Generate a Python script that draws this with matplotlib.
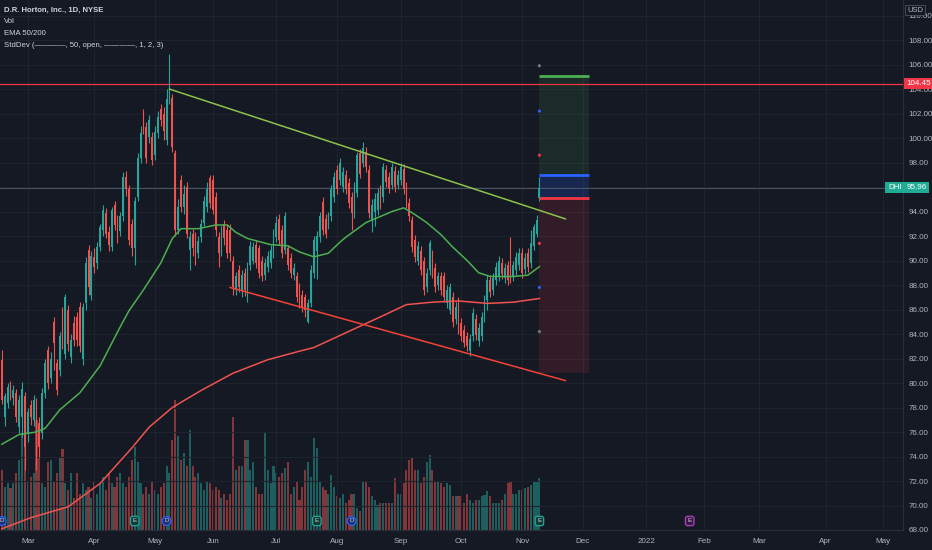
import matplotlib.pyplot as plt
import numpy as np
import pandas as pd

plt.rcParams["font.family"] = ["Liberation Sans Narrow", "Liberation Sans", "DejaVu Sans"]

BG = "#151924"
GRID = "#1f232e"
TXT = "#b2b5be"
UP = "#26a69a"
DOWN = "#ef5350"

# NYSE trading days, used as the bar axis (future bars continue the calendar)
holidays = ["2021-04-02", "2021-05-31", "2021-07-05", "2021-09-06", "2021-11-25",
            "2021-12-24", "2022-01-17", "2022-02-21", "2022-04-15", "2022-05-30"]
days = pd.bdate_range("2021-02-16", "2022-05-31", freq="C", holidays=holidays)

month_starts = ["2021-03", "2021-04", "2021-05", "2021-06", "2021-07", "2021-08",
                "2021-09", "2021-10", "2021-11", "2021-12", "2022-01", "2022-02",
                "2022-03", "2022-04", "2022-05"]
month_labels = ["Mar", "Apr", "May", "Jun", "Jul", "Aug", "Sep", "Oct", "Nov",
                "Dec", "2022", "Feb", "Mar", "Apr", "May"]

# daily candles, 16 Feb 2021 .. 9 Nov 2021
opens = [81.9, 77.2, 78.4, 79.7, 78.8, 79.2, 76.4, 77.2, 78.9, 75.9,
         78.2, 77.0, 78.4, 76.7, 75.9, 79.2, 82.7, 80.4, 85.0, 81.6,
         81.1, 85.7, 82.4, 86.0, 82.1, 84.9, 85.4, 86.2, 82.0, 86.5,
         90.9, 87.2, 90.3, 89.8, 91.1, 92.5, 93.9, 92.3, 91.1, 94.5,
         93.3, 92.4, 93.6, 96.8, 95.8, 93.0, 91.0, 95.2, 98.4, 101.7,
         100.9, 100.1, 100.1, 98.6, 100.4, 102.4, 102.0, 99.8, 103.1, 103.3,
         98.8, 92.5, 96.6, 94.4, 96.0, 90.9, 92.2, 91.9, 90.6, 91.9,
         93.1, 94.4, 96.7, 96.6, 95.2, 91.9, 90.9, 93.0, 92.5, 92.5,
         90.0, 87.6, 89.2, 87.5, 89.0, 87.4, 89.6, 90.0, 91.3, 91.0,
         90.0, 88.8, 89.5, 89.8, 90.6, 91.9, 93.4, 92.5, 90.9, 91.0,
         90.2, 88.8, 88.7, 87.8, 87.2, 87.0, 85.0, 86.5, 89.0, 90.8,
         91.9, 94.8, 93.4, 93.0, 93.6, 95.2, 97.4, 96.6, 96.0, 97.0,
         96.3, 95.2, 93.9, 95.5, 98.8, 98.0, 98.9, 97.4, 93.3, 94.0,
         94.1, 95.8, 95.2, 97.4, 96.8, 96.2, 97.3, 96.2, 96.6, 97.5,
         96.0, 94.7, 93.3, 91.7, 90.0, 90.8, 90.0, 87.8, 89.2, 90.5,
         89.4, 88.0, 88.7, 88.7, 86.5, 86.0, 87.0, 85.2, 86.6, 84.9,
         84.3, 83.8, 82.6, 83.8, 85.2, 83.4, 83.8, 85.4, 86.8, 88.4,
         87.6, 88.4, 88.7, 89.8, 88.6, 89.6, 90.4, 88.7, 89.2, 89.6,
         90.6, 89.3, 90.6, 89.8, 91.2, 92.2, 95.1]
highs = [82.7, 79.2, 80.0, 80.2, 79.8, 79.5, 79.0, 80.1, 79.3, 78.0,
         78.6, 79.0, 78.8, 77.2, 79.6, 82.0, 83.0, 82.5, 85.4, 82.0,
         84.2, 86.2, 87.3, 86.4, 84.0, 85.5, 85.8, 86.6, 86.5, 90.3,
         91.3, 90.8, 91.0, 91.5, 93.0, 94.5, 94.3, 92.8, 94.4, 94.9,
         93.7, 94.0, 97.2, 97.3, 96.2, 93.4, 95.2, 98.8, 101.0, 102.4,
         101.3, 101.9, 100.5, 101.0, 102.2, 102.8, 102.5, 104.0, 106.9, 103.6,
         99.0, 95.0, 97.0, 96.2, 96.4, 92.4, 92.6, 92.3, 92.0, 93.4,
         95.3, 96.4, 97.0, 97.0, 95.6, 92.3, 92.8, 93.3, 93.0, 93.0,
         90.4, 89.1, 89.6, 89.2, 89.4, 89.9, 91.6, 91.5, 91.7, 91.3,
         90.4, 90.2, 90.8, 91.3, 92.6, 93.6, 93.8, 92.9, 94.0, 91.3,
         90.6, 89.8, 89.1, 88.2, 87.6, 87.3, 86.9, 89.6, 92.0, 92.4,
         94.0, 95.2, 93.8, 94.0, 96.2, 97.2, 97.8, 98.4, 97.6, 97.4,
         96.7, 95.6, 96.4, 98.9, 99.1, 99.7, 99.3, 97.8, 95.0, 95.5,
         95.9, 96.2, 98.0, 97.8, 97.2, 98.0, 97.7, 97.4, 98.0, 97.9,
         96.4, 95.1, 93.6, 92.1, 91.6, 91.2, 90.3, 89.4, 91.7, 90.9,
         89.8, 89.1, 89.1, 89.1, 88.0, 88.2, 87.4, 86.6, 87.0, 85.3,
         84.7, 84.2, 84.0, 86.1, 85.6, 84.9, 85.8, 87.2, 88.8, 88.8,
         89.0, 89.9, 90.4, 90.2, 89.8, 90.0, 91.9, 90.0, 90.7, 91.0,
         91.0, 90.6, 91.0, 92.5, 93.0, 93.7, 96.8]
lows = [78.3, 76.5, 78.0, 78.6, 78.2, 76.8, 75.9, 75.6, 72.9, 75.2,
        76.6, 76.5, 72.9, 74.0, 75.4, 78.8, 79.5, 80.0, 81.1, 79.0,
        80.6, 82.8, 82.0, 82.6, 81.6, 83.0, 83.0, 82.5, 81.5, 86.0,
        87.2, 86.8, 89.0, 89.3, 90.8, 92.0, 91.8, 90.8, 90.8, 92.5,
        91.4, 92.0, 93.2, 95.3, 91.3, 90.4, 89.6, 94.9, 98.0, 100.3,
        98.0, 99.6, 97.8, 98.2, 100.0, 101.0, 99.8, 99.4, 102.8, 98.9,
        92.0, 92.2, 94.0, 93.8, 91.8, 89.2, 90.4, 89.6, 90.2, 91.5,
        92.8, 94.0, 94.3, 93.8, 92.0, 89.5, 90.4, 91.3, 90.2, 90.0,
        87.2, 87.2, 87.4, 87.0, 87.1, 86.6, 89.2, 89.7, 89.4, 88.6,
        88.3, 88.4, 89.1, 89.4, 90.2, 91.5, 91.3, 90.2, 90.5, 89.2,
        88.6, 88.4, 86.6, 86.1, 85.8, 85.4, 84.9, 86.2, 88.6, 88.5,
        91.5, 92.1, 91.8, 92.6, 93.2, 94.8, 95.4, 96.2, 95.6, 95.4,
        94.3, 92.5, 93.5, 95.2, 96.7, 97.6, 97.2, 93.5, 92.3, 92.8,
        93.7, 94.2, 94.8, 96.0, 95.5, 95.8, 95.6, 95.8, 96.2, 95.4,
        94.3, 93.2, 90.7, 89.9, 89.6, 88.8, 87.2, 87.4, 88.8, 88.6,
        87.4, 87.6, 87.2, 86.6, 86.1, 85.6, 84.6, 84.8, 84.0, 83.4,
        82.9, 82.6, 82.2, 83.4, 83.5, 83.0, 83.4, 85.0, 86.0, 87.0,
        87.2, 88.0, 88.3, 88.5, 88.2, 88.0, 88.2, 88.3, 88.8, 89.2,
        88.6, 88.9, 89.1, 89.4, 90.9, 91.9, 94.9]
closes = [78.6, 78.9, 79.7, 79.0, 79.4, 77.2, 78.6, 79.5, 74.8, 77.6,
          77.2, 78.6, 75.1, 74.8, 79.2, 81.6, 80.0, 82.0, 83.3, 79.4,
          83.8, 83.3, 87.0, 83.2, 83.5, 83.5, 83.5, 83.0, 86.2, 89.8,
          87.8, 90.4, 89.5, 91.1, 92.7, 94.1, 92.2, 91.3, 94.1, 92.9,
          91.8, 93.6, 96.8, 95.8, 91.7, 91.0, 94.9, 98.4, 100.4, 100.7,
          98.4, 101.5, 98.2, 100.5, 101.7, 101.5, 100.6, 103.2, 104.0, 99.3,
          92.5, 94.4, 94.4, 95.4, 92.2, 91.9, 91.0, 90.3, 91.6, 93.0,
          94.9, 95.8, 94.7, 94.1, 92.5, 90.6, 92.4, 91.8, 90.6, 90.6,
          87.8, 88.7, 87.8, 88.8, 87.6, 89.5, 91.2, 91.1, 89.8, 89.0,
          88.7, 89.8, 90.4, 90.9, 92.2, 93.1, 91.7, 90.6, 93.6, 89.6,
          89.0, 89.4, 87.0, 86.5, 86.2, 86.0, 86.5, 89.2, 91.7, 92.0,
          93.6, 92.5, 92.2, 93.6, 95.8, 96.8, 95.8, 98.0, 97.2, 95.8,
          94.7, 93.9, 96.0, 98.6, 97.1, 99.2, 97.6, 93.9, 94.5, 95.0,
          95.5, 94.6, 97.6, 96.4, 95.9, 97.6, 96.0, 97.0, 97.6, 95.8,
          94.7, 93.6, 91.1, 90.3, 91.2, 89.2, 87.6, 89.0, 91.4, 89.0,
          87.8, 88.7, 87.6, 87.0, 87.6, 87.8, 85.0, 86.2, 84.9, 83.8,
          83.3, 83.0, 83.6, 85.7, 83.9, 84.5, 85.4, 86.8, 88.4, 87.4,
          88.6, 89.5, 90.0, 88.9, 89.4, 88.4, 88.6, 89.6, 90.3, 90.6,
          89.0, 90.2, 89.5, 91.4, 92.7, 93.3, 95.96]
# volume, millions of shares
volumes = [4.6, 3.3, 3.6, 3.2, 3.6, 4.4, 5.4, 7.5, 6.9, 3.8,
           4.1, 4.4, 8.5, 5.6, 3.6, 3.3, 5.2, 5.4, 3.8, 4.4,
           5.6, 6.2, 3.6, 3.1, 4.4, 2.5, 4.4, 2.8, 3.6, 3.1,
           3.3, 2.5, 3.8, 2.8, 3.6, 4.1, 3.1, 4.4, 3.6, 3.3,
           4.1, 4.4, 3.6, 3.3, 4.1, 5.4, 6.4, 5.2, 3.6, 2.8,
           3.3, 2.8, 3.8, 3.1, 2.8, 3.3, 3.6, 4.9, 4.4, 6.9,
           10.0, 7.2, 5.4, 5.9, 4.9, 7.7, 4.9, 4.1, 4.4, 3.6,
           3.1, 3.8, 3.6, 3.1, 3.3, 3.1, 2.5, 2.8, 2.3, 2.8,
           8.7, 4.6, 4.9, 4.9, 6.9, 6.9, 4.6, 5.2, 3.3, 2.8,
           2.8, 7.5, 4.6, 3.6, 4.9, 4.4, 4.1, 4.4, 4.8, 5.2,
           2.8, 3.3, 3.8, 2.3, 3.3, 4.6, 5.2, 4.1, 7.1, 6.3,
           3.8, 3.3, 3.1, 2.8, 4.2, 3.3, 2.6, 2.5, 2.8, 2.1,
           2.3, 2.8, 2.8, 1.7, 1.5, 3.7, 3.8, 3.3, 2.6, 2.3,
           1.9, 2.1, 2.1, 2.1, 2.1, 2.1, 4.0, 2.8, 2.8, 3.6,
           4.6, 5.4, 5.6, 4.6, 4.6, 3.6, 4.1, 5.2, 5.8, 4.6,
           3.8, 3.8, 3.6, 3.3, 3.6, 3.5, 2.6, 2.6, 2.6, 2.6,
           2.1, 2.8, 2.3, 2.1, 2.3, 2.3, 2.6, 2.7, 3.0, 2.6,
           2.1, 2.1, 2.1, 2.3, 2.8, 3.6, 3.8, 2.8, 2.8, 3.1,
           3.1, 3.2, 3.3, 3.5, 3.7, 3.8, 4.0]

# EMA 50 / 200 (bar number, value)
ema50_bars = [0, 6, 12, 15, 20, 27, 34, 41, 44, 49, 55, 59, 62, 68, 74, 78, 81, 85,
              93, 99, 103, 108, 113, 117, 119, 126, 131, 135, 139, 142, 147, 152,
              156, 161, 165, 169, 177, 182, 186]
ema50_vals = [75.0, 75.8, 76.0, 76.3, 77.8, 79.2, 81.4, 84.6, 85.9, 87.6, 89.8, 91.8,
              92.6, 92.6, 92.9, 92.9, 92.3, 91.8, 91.3, 91.2, 90.7, 90.3, 90.6, 91.5,
              91.9, 93.1, 93.6, 94.0, 94.3, 93.9, 93.1, 92.1, 91.1, 90.0, 89.0, 88.7,
              88.7, 88.8, 89.5]
ema200_bars = [0, 10, 23, 34, 45, 51, 59, 69, 80, 92, 103, 108, 119, 131, 140, 149,
               158, 168, 177, 186]
ema200_vals = [68.1, 69.0, 69.9, 71.8, 74.7, 76.4, 78.0, 79.4, 80.8, 81.9, 82.6, 82.9,
               84.1, 85.4, 86.4, 86.6, 86.7, 86.5, 86.6, 86.9]

# drawings
resist_line = (("2021-05-10", 104.0), ("2021-11-22", 93.4))
support_line = (("2021-06-09", 87.8), ("2021-11-22", 80.2))
hline_level = 104.45
last_price = 95.96
pos_dates = ("2021-11-09", "2021-12-03")
pos_target, pos_entry, pos_stop, pos_floor = 105.1, 97.0, 95.1, 80.8
std_levels = [105.9, 102.2, 98.6, 91.4, 87.8, 84.2]
std_colors = ["#787b86", "#2962ff", "#f23645", "#f23645", "#2962ff", "#787b86"]

dividends = ["2021-02-16", "2021-05-07", "2021-08-09"]
earnings = ["2021-04-22", "2021-07-22", "2021-11-09"]
next_earnings = "2022-01-25"


def bar_of(d):
    return days.get_loc(pd.Timestamp(d))


fig = plt.figure(figsize=(9.32, 5.5), dpi=100, facecolor=BG)
rect = [0, 20 / 550, 903 / 932, 530 / 550]
axv = fig.add_axes(rect)
ax = fig.add_axes(rect, sharex=axv)
ax.patch.set_visible(False)
axv.set_facecolor(BG)

x = np.arange(len(closes))
o, h, l, c = (np.array(a) for a in (opens, highs, lows, closes))
cols = np.where(c >= o, UP, DOWN)

# volume pane
axv.bar(x, volumes, width=0.72, color=cols, alpha=0.5, lw=0)
axv.set_ylim(0, 40.8)
axv.set_yticks([])
axv.tick_params(axis="x", labelbottom=False, length=0)
for s in axv.spines.values():
    s.set_visible(False)

# candles
ax.vlines(x, l, h, colors=cols, lw=0.8, zorder=3)
ax.bar(x, np.maximum(np.abs(c - o), 0.08), bottom=np.minimum(o, c), width=0.62,
       color=cols, lw=0, zorder=4)

ax.plot(ema50_bars, ema50_vals, color="#4caf50", lw=1.1, zorder=5)
ax.plot(ema200_bars, ema200_vals, color="#f05350", lw=1.1, zorder=5)

(d1, p1), (d2, p2) = resist_line
ax.plot([bar_of(d1), bar_of(d2)], [p1, p2], color="#8bc34a", lw=1.1, zorder=6)
(d1, p1), (d2, p2) = support_line
ax.plot([bar_of(d1), bar_of(d2)], [p1, p2], color="#f44336", lw=1.1, zorder=6)

ax.axhline(hline_level, color="#f23645", lw=0.9, zorder=2)
ax.axhline(last_price, color="#4a5563", lw=0.7, zorder=2)

# long position tool
ps, pe = bar_of(pos_dates[0]), bar_of(pos_dates[1])
ax.fill_between([ps, pe], pos_entry, pos_target, color="#4caf50", alpha=0.12, lw=0, zorder=1)
ax.fill_between([ps, pe], pos_stop, pos_entry, color="#2962ff", alpha=0.2, lw=0, zorder=1)
ax.fill_between([ps, pe], pos_floor, pos_stop, color="#f23645", alpha=0.13, lw=0, zorder=1)
ax.hlines([pos_target, pos_entry, pos_stop], ps, pe,
          colors=["#4caf50", "#2962ff", "#f23645"], lw=2, zorder=6)

ax.scatter([len(closes) - 1] * len(std_levels), std_levels, s=5, c=std_colors,
           zorder=7, lw=0)

# axes cosmetics
ax.set_xlim(-0.62, 311.8)
ax.set_ylim(68.0, 111.27)
ticks = [bar_of(days[days.strftime("%Y-%m") == m][0]) for m in month_starts]
ax.set_xticks(ticks)
ax.set_xticklabels(month_labels)
ax.set_yticks(np.arange(68, 111, 2))
ax.set_yticklabels([f"{v:.2f}" for v in np.arange(68, 111, 2)])
ax.yaxis.tick_right()
ax.tick_params(axis="y", length=0, pad=4, labelsize=5.8, colors=TXT)
ax.tick_params(axis="x", length=0, pad=6, labelsize=5.8, colors=TXT)
ax.grid(True, color=GRID, lw=0.8)
ax.set_axisbelow(True)
for name, s in ax.spines.items():
    s.set_visible(name in ("right", "bottom"))
    s.set_color("#2a2e39")

# event markers
xt = ax.get_xaxis_transform()
for d in dividends:
    ax.text(bar_of(d), 0.017, "D", transform=xt, ha="center", va="center",
            fontsize=4.5, color="#d1d4dc", zorder=8,
            bbox=dict(boxstyle="circle,pad=0.3", fc="#1c2f6b", ec="#2962ff", lw=0.9))
for d in earnings:
    ax.text(bar_of(d), 0.017, "E", transform=xt, ha="center", va="center",
            fontsize=4.5, color="#d1d4dc", zorder=8,
            bbox=dict(boxstyle="round,pad=0.35", fc="#0d3b36", ec="#26a69a", lw=0.9))
ax.text(bar_of(next_earnings), 0.017, "E", transform=xt, ha="center", va="center",
        fontsize=4.5, color="#d1d4dc", zorder=8,
        bbox=dict(boxstyle="round,pad=0.35", fc="#3a1748", ec="#ab47bc", lw=0.9))

# price scale labels
yt = ax.get_yaxis_transform()
ax.text(1.004, hline_level, f"{hline_level:.2f}", transform=yt, ha="left", va="center",
        fontsize=5.8, color="white", clip_on=False, zorder=9,
        bbox=dict(boxstyle="square,pad=0.3", fc="#f23645", ec="none"))
ax.text(1.004, last_price, f"{last_price:.2f}", transform=yt, ha="left", va="center",
        fontsize=5.8, color="white", clip_on=False, zorder=9,
        bbox=dict(boxstyle="square,pad=0.3", fc="#22ab94", ec="none"))
ax.text(0.9985, last_price, "DHI", transform=yt, ha="right", va="center",
        fontsize=5.8, color="white", clip_on=False, zorder=9,
        bbox=dict(boxstyle="square,pad=0.3", fc="#22ab94", ec="none"))
fig.text(915 / 932, 1 - 10 / 550, "USD", ha="center", va="center", fontsize=5.5,
         color=TXT, bbox=dict(boxstyle="square,pad=0.25", fc=BG, ec="#50535e", lw=0.6))

# legend lines
legend = ["D.R. Horton, Inc., 1D, NYSE", "Vol", "EMA 50/200",
          "StdDev (————, 50, open, ————, 1, 2, 3)"]
for k, t in enumerate(legend):
    fig.text(4 / 932, 1 - (10 + 11.7 * k) / 550, t, ha="left", va="center",
             fontsize=5.6, color="#d1d4dc", fontweight="bold" if k == 0 else "normal")

fig.savefig("out.png", dpi=100, facecolor=BG)
